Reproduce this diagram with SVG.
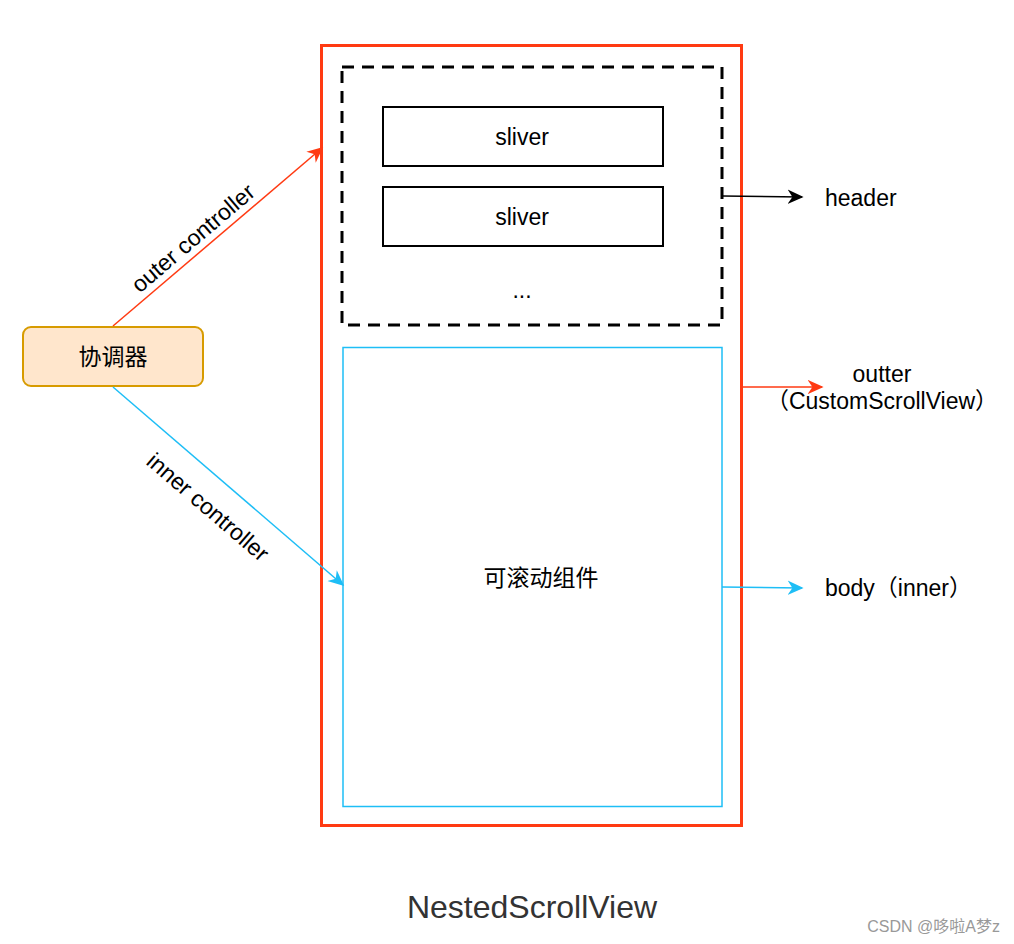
<svg xmlns="http://www.w3.org/2000/svg" width="1014" height="944" viewBox="0 0 1014 944">
<defs>
<style>
text{font-family:"Liberation Sans","Noto Sans CJK SC",sans-serif;font-size:23px;fill:#000;}
.c{text-anchor:middle;dominant-baseline:central;}
.box{fill:#fff;stroke:#000;stroke-width:2;}
</style>
<marker id="ab" viewBox="0 0 10 10" refX="9" refY="5" markerWidth="16" markerHeight="16" markerUnits="userSpaceOnUse" orient="auto"><path d="M0,0.5 L10,5 L0,9.5 L3,5 Z" fill="#000"/></marker>
<marker id="ar" viewBox="0 0 10 10" refX="9" refY="5" markerWidth="16" markerHeight="16" markerUnits="userSpaceOnUse" orient="auto"><path d="M0,0.5 L10,5 L0,9.5 L3,5 Z" fill="#FF3A12"/></marker>
<marker id="abl" viewBox="0 0 10 10" refX="9" refY="5" markerWidth="16" markerHeight="16" markerUnits="userSpaceOnUse" orient="auto"><path d="M0,0.5 L10,5 L0,9.5 L3,5 Z" fill="#1EBEF6"/></marker>
</defs>
<rect width="1014" height="944" fill="#fff"/>
<g id="outer">
<rect x="321.5" y="45.5" width="420" height="780" fill="none" stroke="#FF3A12" stroke-width="3"/>
</g>
<g id="header">
<rect x="342" y="67" width="380" height="258" fill="none" stroke="#000" stroke-width="3" stroke-dasharray="12,8"/>
<text x="522" y="290" class="c">...</text>
</g>
<g id="sliver1"><rect class="box" x="383" y="107" width="280" height="59"/><text x="522" y="137" class="c">sliver</text></g>
<g id="sliver2"><rect class="box" x="383" y="187" width="280" height="59"/><text x="522" y="217" class="c">sliver</text></g>
<g id="body">
<rect x="343" y="347.5" width="379" height="459" fill="none" stroke="#1EBEF6" stroke-width="1.5"/>
<text x="541" y="578" class="c">可滚动组件</text>
</g>
<g id="coord">
<rect x="23" y="327" width="180" height="59" rx="8" fill="#FFE6CC" stroke="#D79B00" stroke-width="2"/>
<text x="113" y="357" class="c">协调器</text>
</g>
<g id="connectors" fill="none" stroke-width="1.5">
<line x1="113" y1="326" x2="322" y2="148" stroke="#FF3A12" marker-end="url(#ar)"/>
<line x1="113" y1="387" x2="343" y2="585" stroke="#1EBEF6" marker-end="url(#abl)"/>
<line x1="722" y1="196" x2="802" y2="197" stroke="#000" marker-end="url(#ab)"/>
<line x1="743" y1="387" x2="822" y2="387" stroke="#FF3A12" marker-end="url(#ar)"/>
<line x1="722" y1="587" x2="802" y2="588" stroke="#1EBEF6" marker-end="url(#abl)"/>
</g>
<g id="labels">
<text x="193" y="238" class="c" transform="rotate(-40.4 193 238)">outer controller</text>
<text x="208" y="507" class="c" transform="rotate(40.7 208 507)">inner controller</text>
<text x="825" y="198" dominant-baseline="central">header</text>
<text x="882" y="374" class="c">outter</text>
<text x="882" y="401" class="c">（CustomScrollView）</text>
<text x="825" y="588" dominant-baseline="central">body（inner）</text>
<text x="532" y="907" class="c" style="font-size:32px;fill:#333">NestedScrollView</text>
<text x="1000" y="926" text-anchor="end" dominant-baseline="central" style="font-size:16px;fill:#999">CSDN @哆啦A梦z</text>
</g>
</svg>
